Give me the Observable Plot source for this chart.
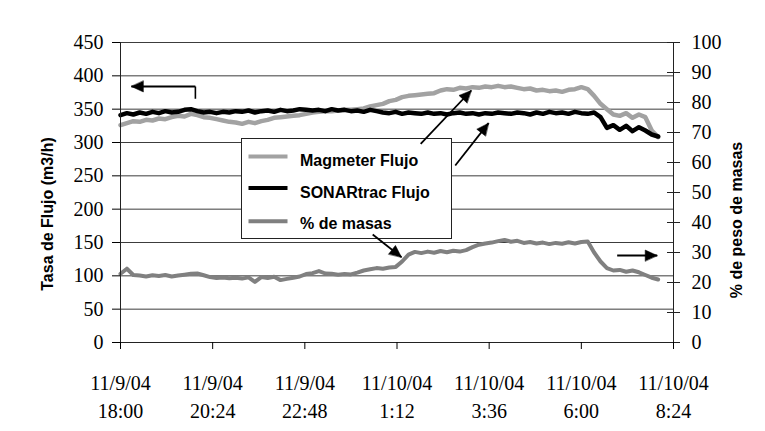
<!DOCTYPE html>
<html><head><meta charset="utf-8">
<script src="https://cdn.jsdelivr.net/npm/d3@7"></script>
<script src="https://cdn.jsdelivr.net/npm/@observablehq/plot@0.6"></script>
<style>
html,body{margin:0;padding:0;background:#fff;}
#wrap{position:relative;width:765px;height:431px;overflow:hidden;background:#fff;}
#wrap > *{position:absolute;left:0;top:0;}
#frame{left:8px !important;top:13px !important;width:756px;height:440px;border:1px solid #222;box-sizing:border-box;pointer-events:none;}
</style></head><body><div id="wrap"><div id="frame"></div></div>
<script>
// ---- data (10-minute samples starting 11/9/04 18:00) ----
const stepMinutes = 10;
const magmeter = [
  326, 329, 332, 331, 334, 333,
  336, 335, 338, 340, 339, 343,
  341, 338, 337, 335, 333, 331,
  330, 328, 331, 329, 332, 334,
  337, 338, 339, 340, 341, 343,
  345, 346, 347, 347, 348, 349,
  349, 350, 351, 354, 356, 358,
  362, 364, 368, 370, 371, 372,
  373, 374, 378, 380, 379, 382,
  381, 383, 382, 384, 383, 385,
  383, 384, 382, 380, 381, 378,
  379, 377, 378, 376, 379, 380,
  383, 380, 370, 358, 350, 342,
  340, 344, 337, 342, 338, 318,
  308];
const sonartrac = [
  341, 344, 342, 345, 343, 346,
  344, 347, 345, 346, 349, 350,
  347, 345, 346, 344, 346, 345,
  347, 346, 348, 345, 347, 348,
  346, 349, 347, 348, 350, 349,
  348, 349, 347, 350, 348, 349,
  347, 348, 346, 349, 347, 345,
  344, 346, 343, 345, 344, 343,
  345, 343, 344, 342, 344, 345,
  343, 344, 342, 344, 343, 345,
  344, 343, 345, 344, 342, 345,
  343, 346, 344, 345, 343, 346,
  344, 343, 345, 338, 322, 326,
  319, 325, 317, 323, 318, 312,
  309];
const masas = [
  22.9, 24.6, 22.5, 22.3, 22.0, 22.4,
  22.2, 22.5, 22.0, 22.3, 22.6, 22.9,
  23.0, 22.4, 21.8, 21.5, 21.7, 21.4,
  21.6, 21.3, 21.7, 20.2, 21.8, 21.5,
  21.9, 20.8, 21.2, 21.6, 22.0, 22.8,
  23.1, 23.8, 23.0, 22.9, 22.6, 22.8,
  22.7, 23.3, 24.0, 24.4, 24.8, 24.6,
  25.0, 25.2, 27.0, 29.3, 30.2, 29.8,
  30.3, 29.9, 30.5, 30.1, 30.6, 30.3,
  30.8, 31.8, 32.6, 33.0, 33.3, 33.8,
  34.2, 33.6, 33.9, 33.2, 33.5, 33.0,
  33.3, 32.8, 33.2, 32.9, 33.4, 33.0,
  33.5, 33.7, 30.0, 27.0, 24.8, 24.0,
  24.2, 23.6, 24.0, 23.4, 22.5, 21.6,
  21.0];

const xTickDates = ["11/9/04", "11/9/04", "11/9/04", "11/10/04", "11/10/04", "11/10/04", "11/10/04"];
const xTickTimes = ["18:00", "20:24", "22:48", "1:12", "3:36", "6:00", "8:24"];
const leftTicks = [0, 50, 100, 150, 200, 250, 300, 350, 400, 450];
const rightTicks = [0, 10, 20, 30, 40, 50, 60, 70, 80, 90, 100];

const seriesNames = ["Magmeter Flujo", "SONARtrac Flujo", "% de masas"];
const seriesColors = ["#a2a2a2", "#000000", "#808080"];
const leftTitle = "Tasa de Flujo (m3/h)";
const rightTitle = "% de peso de masas";

// annotation arrows (minutes after 18:00, flow units)
const arrowTailMin = [117, 469, 523, 394, 776];
const arrowTailVal = [384, 298, 265.5, 162, 130.5];
const arrowTipMin  = [17, 548, 575, 439, 838.5];
const arrowTipVal  = [384, 378, 329, 128, 130.5];
const bracketMin = [117, 117];
const bracketVal = [365.6, 384];

// ---- helpers ----
function parseStamp(d, t) {
  const [m, day, y] = d.split("/").map(Number);
  const [hh, mm] = t.split(":").map(Number);
  return new Date(Date.UTC(2000 + y, m - 1, day, hh, mm));
}
const xTicks = xTickDates.map((d, i) => parseStamp(d, xTickTimes[i]));
const t0 = xTicks[0];
const at = (m) => new Date(+t0 + m * 60000);
const xDomain = [xTicks[0], xTicks[xTicks.length - 1]];
const tickLabel = new Map(xTicks.map((d, i) => [+d, xTickDates[i] + "\n" + xTickTimes[i]]));
const RATIO = 450 / 100; // right axis (%) to left axis units

const W = 765, H = 431;
const M = {top: 42, right: 92, bottom: 89, left: 120};

const toRows = (arr, k) => arr.map((v, i) => ({t: at(i * stepMinutes), v: k === 2 ? v * RATIO : v}));
const rowsMag = toRows(magmeter, 0);
const rowsSon = toRows(sonartrac, 1);
const rowsMas = toRows(masas, 2);

const base = {
  width: W, height: H,
  marginTop: M.top, marginRight: M.right, marginBottom: M.bottom, marginLeft: M.left,
  x: {type: "utc", domain: xDomain, axis: null},
  y: {domain: [0, 450], axis: null}
};

const serif = "Liberation Serif";
const sans = "Liberation Sans";
const axisFont = {fontFamily: serif, fontSize: 20, fill: "#000"};

const main = Plot.plot({
  ...base,
  style: {fontSize: "20px", color: "#000", background: "#fff"},
  marks: [
    Plot.ruleY(leftTicks, {stroke: "#3c3c3c", strokeWidth: 1}),
    Plot.line(rowsMag, {x: "t", y: "v", stroke: seriesColors[0], strokeWidth: 4.5}),
    Plot.line(rowsSon, {x: "t", y: "v", stroke: seriesColors[1], strokeWidth: 4.5}),
    Plot.line(rowsMas, {x: "t", y: "v", stroke: seriesColors[2], strokeWidth: 4}),
    Plot.ruleX([xDomain[0], xDomain[1]], {stroke: "#222", strokeWidth: 1}),
    Plot.ruleY([0], {stroke: "#222", strokeWidth: 1}),
    Plot.axisY({anchor: "left", ticks: leftTicks, tickSize: 8, tickPadding: 9, label: null, ...axisFont}),
    Plot.axisY({anchor: "right", ticks: rightTicks.map(p => p * RATIO), tickSize: 0, tickPadding: 18,
      tickFormat: d => String(Math.round(d / RATIO)), label: null, ...axisFont}),
    Plot.ruleY(rightTicks.map(p => p * RATIO), {x1: xDomain[1], x2: xDomain[1], insetLeft: -6, insetRight: -7, stroke: "#222"}),
    Plot.axisX({ticks: xTicks, tickSize: 7, tickPadding: 20, tickFormat: d => tickLabel.get(+d),
      lineHeight: 1.415, label: null, ...axisFont})
  ]
});
d3.select(main).selectAll("text").style("font-family", "'Liberation Serif'").style("font-variant", "normal");
document.getElementById("wrap").appendChild(main);

// ---- axis titles (rotated, bold sans) ----
const titles = d3.select("#wrap").append("svg").attr("width", W).attr("height", H)
  .style("pointer-events", "none");
[[leftTitle, 47.5, 214], [rightTitle, 736.5, 220]].forEach(([t, x, y]) => {
  titles.append("text")
    .attr("transform", `translate(${x},${y}) rotate(-90)`)
    .attr("text-anchor", "middle").attr("dy", "0.36em")
    .attr("font-family", sans).attr("font-weight", "bold").attr("font-size", 16).attr("fill", "#000")
    .text(t);
});

// ---- legend (inside plot area) ----
const lg = d3.select("#wrap").append("svg")
  .attr("width", 212).attr("height", 102)
  .style("left", "240.5px").style("top", "138px");
lg.append("rect").attr("x", 0.5).attr("y", 0.5).attr("width", 210).attr("height", 100)
  .attr("fill", "#fff").attr("stroke", "#222");
const lgY = [18.5, 50, 83.3];
const lgBase = [27.7, 60.3, 91];
seriesNames.forEach((name, i) => {
  lg.append("line").attr("x1", 7.5).attr("x2", 46.5).attr("y1", lgY[i]).attr("y2", lgY[i])
    .attr("stroke", seriesColors[i]).attr("stroke-width", 4);
  lg.append("text").attr("x", 59).attr("y", lgBase[i]).text(name)
    .attr("font-family", sans).attr("font-weight", "bold").attr("font-size", 16).attr("fill", "#000");
});

// ---- annotation arrows overlay ----
const sx = Plot.scale({x: {type: "utc", domain: xDomain, range: [M.left, W - M.right]}});
const sy = Plot.scale({y: {domain: [0, 450], range: [H - M.bottom, M.top]}});
const arrows = arrowTailMin.map((m, i) => {
  const a = {x1: at(m), y1: arrowTailVal[i], x2: at(arrowTipMin[i]), y2: arrowTipVal[i]};
  const dx = sx.apply(a.x2) - sx.apply(a.x1), dy = sy.apply(a.y2) - sy.apply(a.y1);
  a.rot = Math.atan2(dx, -dy) * 180 / Math.PI;
  return a;
});
const head = {draw(context, l) { const w = 5.5; context.moveTo(0, -l); context.lineTo(-w, 0); context.lineTo(w, 0); context.closePath(); }};
const overlay = Plot.plot({
  ...base,
  style: {background: "transparent"},
  marks: [
    Plot.link([0], {x1: () => at(bracketMin[0]), y1: () => bracketVal[0], x2: () => at(bracketMin[1]), y2: () => bracketVal[1], stroke: "#000", strokeWidth: 1.6}),
    Plot.link(arrows, {x1: "x1", y1: "y1", x2: "x2", y2: "y2", stroke: "#000", strokeWidth: 1.8}),
    Plot.vector(arrows, {x: "x2", y: "y2", rotate: "rot", length: 12, anchor: "end", shape: head, fill: "#000", stroke: "#000", strokeWidth: 0.5})
  ]
});
overlay.style.background = "transparent";
document.getElementById("wrap").appendChild(overlay);
</script>
</body></html>
